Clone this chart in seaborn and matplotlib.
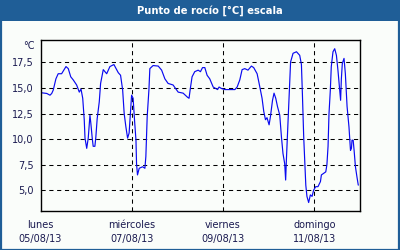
import matplotlib
matplotlib.use("Agg")
import matplotlib.pyplot as plt
import matplotlib.dates as mdates
from matplotlib.patches import Rectangle
import numpy as np
import pandas as pd
import seaborn as sns

# ---- data ----
start = "2013-08-05 00:00"
hours = [0, 3.3, 5.0, 5.9, 6.7, 8.1, 9.3, 11.1, 13.4, 14.6,
         15.9, 17.2, 19.0, 20.4, 21.3, 22.2, 23.0, 23.4, 24.3, 25.1,
         26.0, 26.5, 27.2, 27.7, 28.6, 29.1, 29.8, 30.9, 31.6, 33.0,
         34.8, 36.5, 38.6, 40.9, 42.1, 43.2, 44.0, 44.9, 45.8, 46.6,
         47.4, 47.9, 48.7, 49.5, 50.2, 50.5, 51.0, 51.9, 53.7, 54.9,
         55.4, 56.1, 57.0, 57.5, 59.2, 61.9, 63.7, 65.4, 67.1, 69.7,
         72.4, 75.0, 77.3, 78.1, 78.9, 79.7, 81.1, 82.9, 84.1, 85.2,
         86.4, 87.6, 89.0, 90.8, 92.2, 93.1, 93.9, 95.2, 96.9, 102.2,
         103.4, 104.8, 106.0, 107.4, 109.1, 110.9, 112.1, 113.9, 114.9, 116.5,
         117.4, 118.3, 119.1, 120.2, 120.9, 122.0, 122.8, 123.7, 124.6, 125.8,
         126.7, 127.5, 128.4, 128.9, 129.3, 130.1, 131.0, 131.5, 132.8, 134.6,
         136.3, 137.2, 137.7, 138.4, 138.9, 139.5, 140.1, 141.0, 141.9, 142.8,
         143.6, 144.7, 145.9, 147.2, 147.7, 148.9, 150.0, 150.6, 151.2, 151.7,
         152.4, 152.9, 153.8, 154.7, 155.6, 156.4, 157.3, 157.8, 158.2, 158.7,
         159.6, 160.3, 161.2, 162.2, 163.0, 163.5, 163.8, 164.4, 164.9, 165.6,
         166.4, 167.1]
dew_point = [14.55, 14.47, 14.3, 14.47, 14.8, 15.9, 16.4, 16.4, 17.1, 16.9,
             16.1, 15.8, 15.3, 14.6, 14.9, 14.0, 11.9, 10.1, 9.1, 10.1,
             12.35, 11.5, 10.1, 9.3, 9.3, 10.2, 12.0, 13.65, 15.45, 16.8,
             16.4, 17.1, 17.3, 16.5, 16.25, 14.8, 12.5, 11.2, 10.1, 10.6,
             12.85, 14.3, 14.0, 11.7, 9.9, 7.6, 6.5, 7.15, 7.3, 7.15,
             8.3, 12.2, 14.8, 16.9, 17.2, 17.15, 16.75, 15.9, 15.45, 15.3,
             14.6, 14.5, 14.1, 14.0, 15.1, 16.1, 16.6, 16.75, 16.6, 17.0,
             17.0, 16.25, 15.9, 15.1, 14.95, 14.85, 15.1, 14.95, 14.85, 14.85,
             15.1, 15.8, 16.8, 16.9, 16.75, 17.15, 17.0, 16.4, 15.5, 14.0,
             12.7, 11.9, 12.1, 11.4, 12.2, 13.8, 14.5, 14.0, 13.2, 12.35,
             10.2, 8.6, 7.6, 6.0, 8.0, 11.5, 15.45, 17.55, 18.4, 18.55,
             18.2, 17.3, 14.5, 10.2, 8.0, 5.5, 4.4, 3.8, 4.55, 4.4,
             5.0, 5.35, 5.35, 5.85, 6.5, 6.65, 6.8, 7.5, 9.3, 12.5,
             14.8, 17.1, 18.55, 18.85, 18.2, 16.75, 14.8, 13.8, 15.9, 17.4,
             17.9, 16.4, 13.2, 11.2, 8.9, 9.1, 9.9, 9.9, 8.9, 7.3,
             6.3, 5.5]
tick_dates = ["2013-08-05", "2013-08-07", "2013-08-09", "2013-08-11"]
day_names = ["lunes", "miércoles", "viernes", "domingo"]
date_labels = ["05/08/13", "07/08/13", "09/08/13", "11/08/13"]
y_ticks = [5.0, 7.5, 10.0, 12.5, 15.0, 17.5]
y_labels = ["5,0", "7,5", "10,0", "12,5", "15,0", "17,5"]
title = "Punto de rocío [°C] escala"
unit = "°C"

# ---- figure ----
sns.set_style("white")
plt.rcParams["font.family"] = ["DejaVu Sans"]

BG = "#fafdfa"
BAR = "#1f5e97"
W, H = 400, 250
fig = plt.figure(figsize=(4, 2.5), dpi=100, facecolor=BG)

# title bar and border
fig.patches.append(Rectangle((0, 1 - 21 / H), 1, 21 / H, transform=fig.transFigure,
                             facecolor=BAR, edgecolor="none", zorder=0))
fig.patches.append(Rectangle((0.5 / W, 0.5 / H), 1 - 2 / W, 1 - 1.5 / H,
                             transform=fig.transFigure, facecolor="none",
                             edgecolor=BAR, linewidth=1.6, zorder=1))
fig.text(210 / W, 1 - 10.5 / H, title, color="white", fontsize=7.2,
         fontweight="bold", ha="center", va="center")

ax = fig.add_axes([40.5 / W, 1 - 210.7 / H, (360 - 40.5) / W, (210.7 - 40) / H])
ax.set_facecolor(BG)

t0 = pd.Timestamp(start)
df = pd.DataFrame({
    "time": [t0 + pd.Timedelta(hours=h) for h in hours],
    "dew": dew_point,
})
sns.lineplot(data=df, x="time", y="dew", ax=ax, color="#0a0af0",
             linewidth=0.85, estimator=None, sort=True)

ax.set_xlim(t0, t0 + pd.Timedelta(days=7))
ax.set_ylim(3.0, 19.7)

ax.set_yticks(y_ticks)
ax.set_yticklabels(y_labels)
major = [mdates.date2num(pd.Timestamp(d)) for d in tick_dates]
ax.set_xticks(major)
ax.set_xticklabels([f"{n}\n{d}" for n, d in zip(day_names, date_labels)],
                   linespacing=1.5)
ax.xaxis.set_minor_locator(mdates.DayLocator())
ax.tick_params(axis="x", which="both", direction="out", length=3.5, width=0.8,
               color="black", labelsize=7, pad=3.5, labelcolor="#1a1a50")
ax.tick_params(axis="y", length=0, labelsize=7, pad=5, labelcolor="#1a1a50")
ax.set_xlabel("")
ax.set_ylabel("")

ax.grid(False)
for y in y_ticks:
    ax.axhline(y, color="black", linewidth=0.75, linestyle=(0, (4, 3.5)), zorder=0.5)
for d in major[1:]:
    ax.axvline(d, color="black", linewidth=0.75, linestyle=(0, (4, 3.5)), zorder=0.5)

for s in ax.spines.values():
    s.set_visible(True)
    s.set_color("black")
    s.set_linewidth(1.0)

fig.text(35 / W, 1 - 46 / H, unit, fontsize=7, ha="right", va="center",
         color="#1a1a50")

fig.savefig("out.png", dpi=100, facecolor=BG)
